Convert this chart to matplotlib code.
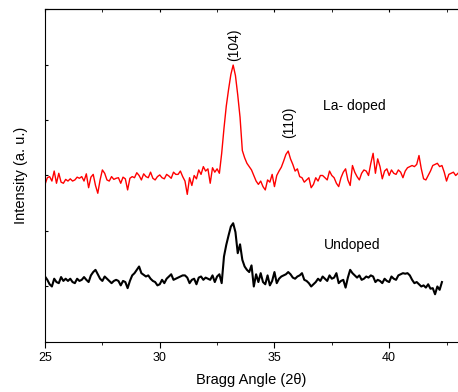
import numpy as np
import matplotlib
matplotlib.use("Agg")
import matplotlib.pyplot as plt
from matplotlib.ticker import MultipleLocator

plt.rcParams["font.family"] = ["Liberation Sans", "DejaVu Sans"]

# 2theta grid (deg), 0.1 step
angle_doped = np.round(np.arange(250, 431) / 10, 1)
angle_undoped = np.round(np.arange(250, 424) / 10, 1)

# La-doped intensity (a.u.)
doped = [
    2.84, 2.96, 2.98, 2.90, 3.08, 2.86, 3.04, 2.88, 2.86, 2.93,
    2.90, 2.94, 2.90, 2.92, 2.97, 2.95, 2.98, 2.90, 3.03, 2.78,
    2.97, 3.02, 2.82, 2.68, 2.92, 3.10, 3.04, 2.92, 2.90, 2.98,
    2.93, 2.95, 2.96, 2.86, 2.97, 2.94, 2.74, 2.95, 2.98, 2.96,
    3.05, 3.00, 2.92, 3.03, 2.98, 2.96, 3.06, 2.95, 2.92, 2.98,
    3.01, 2.96, 2.94, 3.02, 2.99, 2.95, 3.06, 3.02, 3.02, 3.08,
    2.98, 2.90, 2.66, 2.96, 2.82, 3.00, 2.94, 3.10, 3.02, 3.16,
    3.08, 3.12, 2.86, 3.14, 3.06, 3.12, 3.04, 3.40, 3.85, 4.25,
    4.55, 4.82, 4.99, 4.80, 4.45, 4.05, 3.45, 3.32, 3.22, 3.16,
    3.10, 3.00, 2.90, 2.84, 2.90, 2.80, 2.74, 2.92, 2.88, 3.02,
    2.80, 3.00, 3.08, 3.15, 3.26, 3.38, 3.44, 3.30, 3.20, 3.08,
    3.12, 2.98, 2.96, 2.88, 2.92, 2.96, 2.78, 2.84, 2.96, 2.90,
    3.00, 3.00, 2.96, 2.92, 3.08, 3.00, 2.96, 2.86, 2.80, 2.96,
    3.06, 3.12, 2.92, 2.82, 3.18, 3.06, 2.98, 2.92, 3.04, 3.10,
    3.08, 3.00, 3.22, 3.40, 3.04, 3.30, 3.16, 2.94, 3.08, 3.12,
    3.00, 3.10, 3.04, 3.02, 3.10, 3.06, 2.96, 3.08, 3.14, 3.16,
    3.18, 3.16, 3.20, 3.36, 3.12, 2.94, 2.92, 3.00, 3.08, 3.18,
    3.20, 3.22, 3.16, 3.18, 3.06, 2.90, 3.02, 3.04, 3.06, 3.00,
    3.04,
]

# undoped intensity (a.u.)
undoped = [
    1.18, 1.12, 1.04, 1.00, 1.14, 1.08, 1.06, 1.17, 1.10, 1.14,
    1.10, 1.14, 1.08, 1.06, 1.14, 1.10, 1.12, 1.17, 1.12, 1.08,
    1.20, 1.26, 1.30, 1.22, 1.14, 1.10, 1.18, 1.14, 1.10, 1.06,
    1.10, 1.12, 1.10, 1.02, 1.10, 1.08, 0.97, 1.10, 1.20, 1.24,
    1.30, 1.36, 1.24, 1.21, 1.18, 1.20, 1.14, 1.10, 1.08, 1.02,
    1.04, 1.12, 1.06, 1.14, 1.18, 1.22, 1.12, 1.14, 1.16, 1.18,
    1.20, 1.20, 1.16, 1.06, 1.12, 1.14, 1.04, 1.16, 1.18, 1.12,
    1.16, 1.14, 1.12, 1.20, 1.08, 1.18, 1.22, 1.06, 1.54, 1.75,
    1.92, 2.08, 2.14, 1.98, 1.60, 1.76, 1.48, 1.36, 1.30, 1.26,
    1.38, 1.00, 1.22, 1.08, 1.24, 1.08, 1.04, 1.20, 1.02, 1.10,
    1.26, 1.06, 1.14, 1.18, 1.20, 1.22, 1.26, 1.22, 1.16, 1.14,
    1.18, 1.20, 1.24, 1.12, 1.10, 1.06, 1.00, 1.04, 1.08, 1.14,
    1.10, 1.18, 1.14, 1.10, 1.20, 1.14, 1.16, 1.24, 1.06, 1.10,
    1.12, 0.98, 1.16, 1.30, 1.24, 1.20, 1.16, 1.20, 1.12, 1.14,
    1.18, 1.16, 1.20, 1.18, 1.08, 1.12, 1.10, 1.06, 1.14, 1.10,
    1.08, 1.18, 1.14, 1.12, 1.20, 1.22, 1.24, 1.23, 1.24, 1.20,
    1.12, 1.06, 1.08, 1.04, 1.00, 1.02, 0.98, 1.04, 0.96, 0.97,
    0.86, 1.00, 0.94, 1.08,
]

fig = plt.figure(figsize=(4.58, 3.92), dpi=100)
ax = fig.add_axes([0.0983, 0.1276, 0.9017, 0.8494])

ax.plot(angle_doped, doped, color="#ff0000", lw=1.0)
ax.plot(angle_undoped, undoped, color="black", lw=1.5)

ax.text(33.26, 5.35, "(104)", rotation=90, ha="center", va="center", fontsize=10)
ax.text(35.65, 3.95, "(110)", rotation=90, ha="center", va="center", fontsize=10)
ax.text(38.5, 4.25, "La- doped", ha="center", va="center", fontsize=10)
ax.text(38.4, 1.75, "Undoped", ha="center", va="center", fontsize=10)

ax.set_xlim(25, 43)
ax.set_ylim(0, 6)
ax.xaxis.set_major_locator(MultipleLocator(5))
ax.xaxis.set_minor_locator(MultipleLocator(2.5))
ax.yaxis.set_major_locator(MultipleLocator(1))
ax.set_yticklabels([])
ax.tick_params(axis="x", which="major", direction="out", length=4, labelsize=9, top=False)
ax.tick_params(axis="x", which="minor", direction="out", length=2.5, top=False)
ax.tick_params(axis="y", direction="in", length=2.5)
ax.spines["right"].set_visible(False)

# ticks on top spine point inward
top = ax.secondary_xaxis("top")
top.xaxis.set_major_locator(MultipleLocator(5))
top.xaxis.set_minor_locator(MultipleLocator(2.5))
top.tick_params(which="both", direction="in", length=2.5, labeltop=False)

for s in ax.spines.values():
    s.set_linewidth(0.8)

ax.set_xlabel("Bragg Angle (2θ)", fontsize=10.5, labelpad=6)
ax.set_ylabel("Intensity (a. u.)", fontsize=10.5, labelpad=9)

fig.savefig("out.png", dpi=100)
